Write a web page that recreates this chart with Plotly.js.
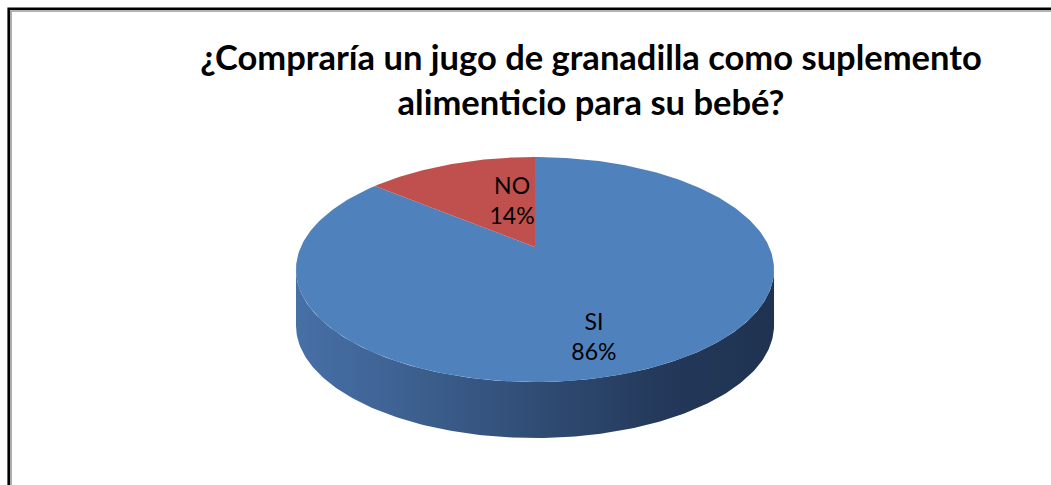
<!DOCTYPE html>
<html>
<head>
<meta charset="utf-8">
<script src="https://cdn.plot.ly/plotly-3.0.1.min.js"></script>
<style>html,body{margin:0;padding:0;background:#fff;}#chart{width:1051px;height:485px;}</style>
</head>
<body>
<div id="chart"></div>
<script>
// ---- data ----
const categories = ['SI', 'NO'];
const values = [86, 14];
const sliceColors = ['#4F81BD', '#C0504D'];
const titleText = '¿Compraría un jugo de granadilla como suplemento<br>alimenticio para su bebé?';

// ---- geometry / style (3D pie projection) ----
const CX = 535, CY = 247;      // projected pie centre
const A = 234.2, B = 108;      // projected radii
const K = 0.2;                 // perspective factor
const DEPTH = 56;              // side thickness
const STEPS = 180;
const LABEL_R = 0.67, LABEL_HS = 0.6, LABEL_DX = 18;
const sideScales = [
  [[0, '#4770a7'], [0.3, '#3a5c8a'], [0.52, '#2f4b72'], [0.78, '#23385a'], [1, '#1f3350']],
  [[0, '#a84644'], [0.5, '#7e3432'], [1, '#5e2625']]
];

function proj(u, v) { const d = 1 + K * v; return [CX + A * u / d, CY - B * v / d]; }
function pt(a, r) { return proj(r * Math.sin(a), r * Math.cos(a)); }

const total = values.reduce((s, v) => s + v, 0);
const traces = [];
const frontStart = Math.acos(-K), frontEnd = 2 * Math.PI - Math.acos(-K);

let cum = 0;
const sliceAngles = values.map(v => { const a0 = cum / total * 2 * Math.PI; cum += v; return [a0, cum / total * 2 * Math.PI]; });

// sides
sliceAngles.forEach(([a0, a1], i) => {
  const s = Math.max(a0, frontStart), e = Math.min(a1, frontEnd);
  if (e <= s) return;
  const xs = [], ys = [];
  for (let j = 0; j <= STEPS; j++) { const p = pt(s + (e - s) * j / STEPS, 1); xs.push(p[0]); ys.push(p[1]); }
  for (let j = STEPS; j >= 0; j--) { const p = pt(s + (e - s) * j / STEPS, 1); xs.push(p[0]); ys.push(p[1] + DEPTH); }
  traces.push({
    type: 'scatter', mode: 'lines', x: xs, y: ys, fill: 'toself',
    line: { width: 0, color: 'rgba(0,0,0,0)' },
    fillcolor: '#2f4b72',
    fillgradient: { type: 'horizontal', colorscale: sideScales[i % sideScales.length] },
    hoverinfo: 'skip', showlegend: false
  });
});

// tops
sliceAngles.forEach(([a0, a1], i) => {
  const c = proj(0, 0);
  const xs = [c[0]], ys = [c[1]];
  const n = Math.max(2, Math.round(STEPS * (a1 - a0) / Math.PI));
  for (let j = 0; j <= n; j++) { const p = pt(a0 + (a1 - a0) * j / n, 1); xs.push(p[0]); ys.push(p[1]); }
  xs.push(c[0]); ys.push(c[1]);
  traces.push({
    type: 'scatter', mode: 'lines', x: xs, y: ys, fill: 'toself',
    fillcolor: sliceColors[i], line: { width: 0, color: sliceColors[i] },
    name: categories[i], hoverinfo: 'name', showlegend: false
  });
});

// labels
const ECY = CY + B * K / (1 - K * K);   // ellipse centre y
const ERX = A / Math.sqrt(1 - K * K), ERY = (B / (1 - K) + B / (1 + K)) / 2;
const lx = [], ly = [], lt = [];
sliceAngles.forEach(([a0, a1], i) => {
  const m = (a0 + a1) / 2;
  lx.push(CX + LABEL_DX + ERX * Math.sin(m) * LABEL_R * LABEL_HS);
  ly.push(ECY - ERY * Math.cos(m) * LABEL_R + 2);
  lt.push(categories[i] + '<br>' + Math.round(values[i] / total * 100) + '%');
});
traces.push({
  type: 'scatter', mode: 'text', x: lx, y: ly, text: lt, textposition: 'middle center',
  textfont: { family: 'Lato, Carlito, sans-serif', size: 23, color: '#000' },
  hoverinfo: 'skip', showlegend: false
});

const layout = {
  width: 1051, height: 485,
  margin: { l: 0, r: 0, t: 0, b: 0 },
  paper_bgcolor: '#fff', plot_bgcolor: '#fff',
  title: {
    text: titleText, x: 591 / 1051, xanchor: 'center', xref: 'paper',
    y: 1 - 70 / 485, yref: 'paper', yanchor: 'middle',
    font: { family: 'Lato, Carlito, sans-serif', size: 34.5, color: '#000', weight: 'bold' }
  },
  xaxis: { range: [0, 1051], visible: false, fixedrange: true },
  yaxis: { range: [485, 0], visible: false, fixedrange: true },
  shapes: [
    { type: 'rect', xref: 'x', yref: 'y', x0: 8.7, y0: 8.7, x1: 1070, y1: 500, line: { color: '#000', width: 2.6 } },
    { type: 'rect', xref: 'x', yref: 'y', x0: 11, y0: 11, x1: 1070, y1: 500, line: { color: '#9a9a9a', width: 1.6 } }
  ],
  showlegend: false
};

Plotly.newPlot('chart', traces, layout, { displayModeBar: false, staticPlot: true });
</script>
</body>
</html>
